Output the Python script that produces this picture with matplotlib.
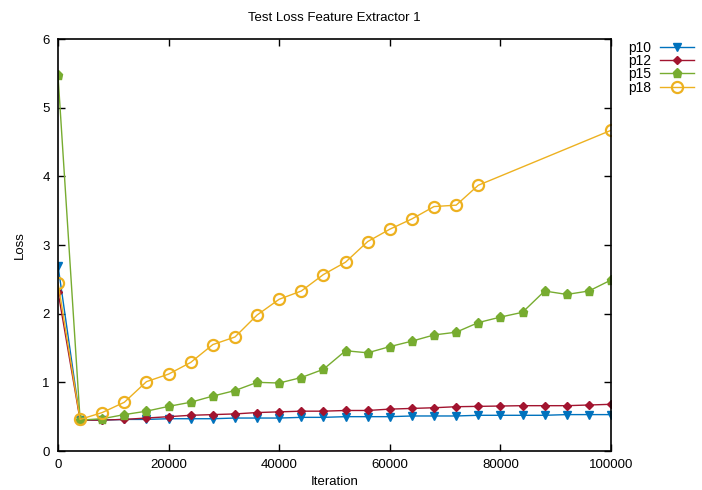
import numpy as np
import matplotlib.pyplot as plt

plt.rcParams['font.family'] = ['Liberation Sans', 'DejaVu Sans']

# iteration grid for the runs that were evaluated every 4000 steps
iters = list(range(0, 100001, 4000))
iters_p18 = list(range(0, 76001, 4000)) + [100000]

loss_p10 = [2.70, 0.45, 0.45, 0.46, 0.46, 0.47, 0.47, 0.47, 0.48, 0.48, 0.48, 0.49, 0.49,
            0.50, 0.50, 0.50, 0.51, 0.51, 0.51, 0.52, 0.52, 0.52, 0.52, 0.53, 0.53, 0.53]
loss_p12 = [2.32, 0.45, 0.45, 0.46, 0.48, 0.50, 0.52, 0.53, 0.54, 0.56, 0.57, 0.58, 0.58,
            0.59, 0.59, 0.61, 0.62, 0.63, 0.645, 0.65, 0.655, 0.66, 0.66, 0.66, 0.67, 0.68]
loss_p15 = [5.47, 0.45, 0.47, 0.53, 0.58, 0.65, 0.71, 0.80, 0.88, 1.00, 0.99, 1.07, 1.19,
            1.46, 1.43, 1.52, 1.60, 1.69, 1.73, 1.87, 1.95, 2.02, 2.33, 2.28, 2.33, 2.49]
loss_p18 = [2.45, 0.46, 0.56, 0.71, 1.01, 1.12, 1.29, 1.55, 1.66, 1.98, 2.21, 2.33, 2.57,
            2.75, 3.05, 3.23, 3.38, 3.56, 3.58, 3.87, 4.67]

fig = plt.figure(figsize=(7.02, 4.90), dpi=100)
ax = fig.add_axes([58 / 702, 1 - 451 / 490, 553 / 702, 412 / 490])

ax.plot(iters, loss_p10, color='#0072BD', lw=1, marker='v', ms=6, label='p10')
ax.plot(iters, loss_p12, color='#A2142F', lw=1, marker='D', ms=4.5, label='p12')
ax.plot(iters, loss_p15, color='#77AC30', lw=1, marker='p', ms=6.5, label='p15')
ax.plot(iters_p18, loss_p18, color='#EDB120', lw=1, marker='o', ms=8, mfc='none',
        mew=1.6, label='p18')

ax.set_xlim(0, 100000)
ax.set_ylim(0, 6)
ax.set_xticks(range(0, 100001, 20000))
ax.set_yticks(range(0, 7))
ax.tick_params(direction='in', top=True, right=True, length=5, width=1,
               labelsize=9.5, pad=6)
for sp in ax.spines.values():
    sp.set_linewidth(1.2)

ax.set_title('Test Loss Feature Extractor 1', fontsize=9.5, pad=13)
ax.set_xlabel('Iteration', fontsize=9.5, labelpad=3)
ax.set_ylabel('Loss', fontsize=9.5, labelpad=12)

ax.legend(loc='upper left', bbox_to_anchor=(1.031, 0.996), frameon=False, markerfirst=False,
          fontsize=10, handlelength=2.5, handletextpad=0.6, labelspacing=-0.05,
          borderaxespad=0.0, borderpad=0.0)

fig.savefig('out.png', dpi=100)
